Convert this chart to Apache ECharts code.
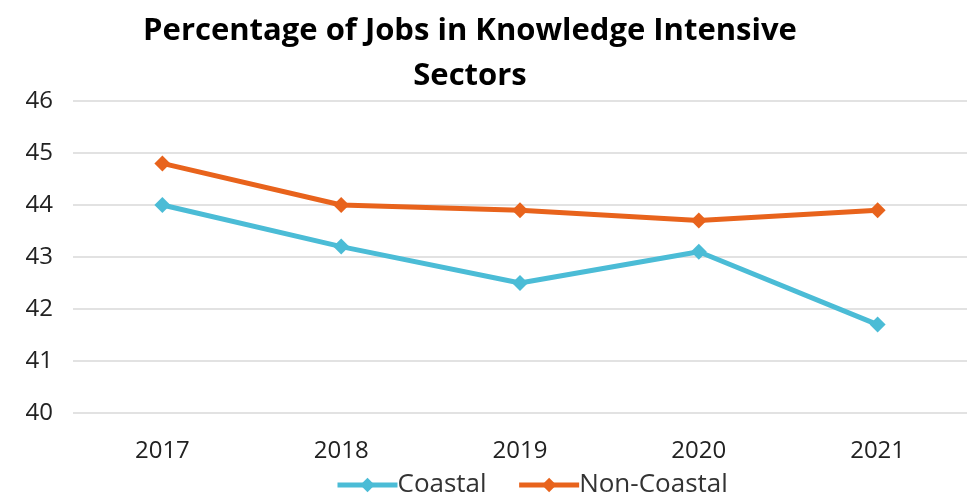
<!DOCTYPE html>
<html>
<head>
<meta charset="utf-8">
<script src="https://cdn.jsdelivr.net/npm/echarts@6/dist/echarts.min.js"></script>
<style>
  html, body { margin: 0; padding: 0; background: #fff; }
  #chart { width: 967px; height: 503px; }
</style>
</head>
<body>
<div id="chart"></div>
<script>
const years = ['2017', '2018', '2019', '2020', '2021']
const coastal = [44.0, 43.2, 42.5, 43.1, 41.7]
const nonCoastal = [44.8, 44.0, 43.9, 43.7, 43.9]

const font = '"Open Sans", sans-serif'

const chart = echarts.init(document.getElementById('chart'))

const diamond = 'path://M0,-1L1,0L0,1L-1,0Z'

chart.setOption({
  animation: false,
  title: {
    text: 'Percentage of Jobs in Knowledge Intensive\nSectors',
    left: 465,
    textAlign: 'center',
    top: 4,
    textStyle: {
      fontFamily: font,
      fontWeight: 'bold',
      fontSize: 31,
      lineHeight: 45,
      color: '#000'
    }
  },
  legend: {
    bottom: 0,
    left: 330,
    itemGap: 30,
    itemWidth: 60,
    itemHeight: 18,
    lineStyle: { width: 5 },
    textStyle: { fontFamily: font, fontSize: 26, color: '#333', padding: [0, 0, 0, -5] },
    data: ['Coastal', 'Non-Coastal']
  },
  grid: {
    left: 73,
    right: -3,
    top: 101,
    bottom: 90
  },
  xAxis: {
    type: 'category',
    data: years,
    axisLine: { show: false },
    axisTick: { show: false },
    axisLabel: { fontFamily: font, fontSize: 24, color: '#222', margin: 26 }
  },
  yAxis: {
    type: 'value',
    min: 40,
    max: 46,
    interval: 1,
    axisLine: { show: false },
    axisTick: { show: false },
    axisLabel: { fontFamily: font, fontSize: 24, color: '#222', margin: 20, align: 'right' },
    splitLine: { lineStyle: { color: '#d9d9d9', width: 1.5 } }
  },
  series: [
    {
      name: 'Coastal',
      type: 'line',
      data: coastal,
      symbol: diamond,
      symbolSize: 16,
      lineStyle: { color: '#4bbcd6', width: 5 },
      itemStyle: { color: '#4bbcd6' }
    },
    {
      name: 'Non-Coastal',
      type: 'line',
      data: nonCoastal,
      symbol: diamond,
      symbolSize: 16,
      lineStyle: { color: '#e8631c', width: 5 },
      itemStyle: { color: '#e8631c' }
    }
  ]
})
</script>
</body>
</html>
